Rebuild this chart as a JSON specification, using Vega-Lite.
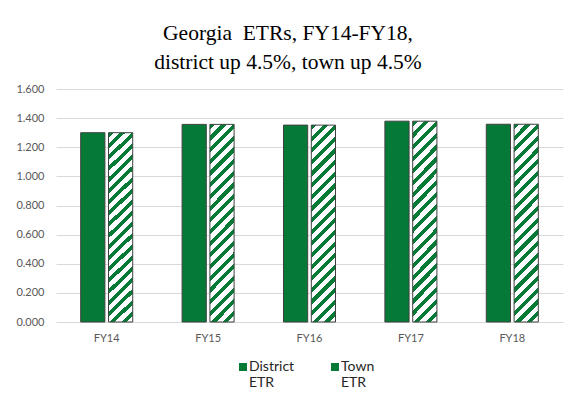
{
  "$schema": "https://vega.github.io/schema/vega-lite/v6.json",
  "width": 507,
  "height": 233,
  "autosize": {"type": "none"},
  "padding": {"left": 56, "top": 89, "right": 8, "bottom": 78},
  "background": "white",
  "title": {
    "text": ["Georgia\u00a0 ETRs, FY14-FY18,", "district up 4.5%, town up 4.5%"],
    "font": "Liberation Serif",
    "fontSize": 21.5,
    "fontWeight": "normal",
    "color": "#000000",
    "anchor": "middle",
    "frame": "group",
    "dx": -21.5,
    "dy": 27,
    "baseline": "alphabetic",
    "lineHeight": 29,
    "offset": 20
  },
  "data": {
    "values": [
      {"year": "FY14", "series": "District ETR", "value": 1.300},
      {"year": "FY14", "series": "Town ETR", "value": 1.300},
      {"year": "FY15", "series": "District ETR", "value": 1.357},
      {"year": "FY15", "series": "Town ETR", "value": 1.357},
      {"year": "FY16", "series": "District ETR", "value": 1.352},
      {"year": "FY16", "series": "Town ETR", "value": 1.352},
      {"year": "FY17", "series": "District ETR", "value": 1.379},
      {"year": "FY17", "series": "Town ETR", "value": 1.379},
      {"year": "FY18", "series": "District ETR", "value": 1.358},
      {"year": "FY18", "series": "Town ETR", "value": 1.358}
    ]
  },
  "mark": {"type": "bar", "stroke": "#404040", "strokeWidth": 1, "fillOpacity": 1},
  "encoding": {
    "x": {
      "field": "year",
      "type": "nominal",
      "scale": {"paddingInner": 0.487, "paddingOuter": 0.2435},
      "axis": {
        "title": null,
        "labelAngle": 0,
        "domain": false,
        "ticks": false,
        "labelPadding": 10,
        "labelFont": "Lato",
        "labelFontSize": 11,
        "labelColor": "#595959"
      }
    },
    "xOffset": {
      "field": "series",
      "scale": {"paddingInner": 0.13, "paddingOuter": 0}
    },
    "y": {
      "field": "value",
      "type": "quantitative",
      "scale": {"domain": [0, 1.6], "nice": false},
      "axis": {
        "title": null,
        "values": [0, 0.2, 0.4, 0.6, 0.8, 1.0, 1.2, 1.4, 1.6],
        "format": ".3f",
        "domain": false,
        "ticks": false,
        "labelPadding": 12,
        "labelFont": "Lato",
        "labelFontSize": 11,
        "labelColor": "#595959",
        "gridColor": "#d9d9d9",
        "gridWidth": 1
      }
    },
    "opacity": {
      "field": "series",
      "type": "nominal",
      "scale": {"domain": ["District ETR", "Town ETR"], "range": [1, 1]},
      "legend": {
        "title": null,
        "orient": "none",
        "legendX": 180,
        "legendY": 271,
        "direction": "horizontal",
        "columns": 2,
        "columnPadding": 33,
        "symbolType": "square",
        "symbolSize": 64,
        "symbolStrokeColor": "#404040",
        "symbolStrokeWidth": 1,
        "symbolOpacity": 1,
        "labelFont": "Lato",
        "labelFontSize": 14,
        "labelColor": "#262626",
        "labelOffset": -1,
        "labelLineHeight": 16,
        "labelExpr": "split(datum.label, ' ')"
      }
    },
    "fill": {
      "condition": [
        {
          "test": "datum.value === 'Town ETR' || datum.label === 'Town ETR'",
          "value": {
            "gradient": "linear",
            "x1": 0, "y1": 0, "x2": 1, "y2": 1,
            "stops": [
              {"offset": 0, "color": "#057a36"}, {"offset": 0.45, "color": "#057a36"},
              {"offset": 0.45, "color": "#ffffff"}, {"offset": 0.75, "color": "#ffffff"},
              {"offset": 0.75, "color": "#057a36"}, {"offset": 1, "color": "#057a36"}
            ]
          }
        },
        {
          "test": "datum.series === 'Town ETR'",
          "value": {
            "gradient": "linear",
            "x1": 0, "y1": 0, "x2": 0.136, "y2": 1.106,
            "stops": [
              {"offset": 0, "color": "#057a36"}, {"offset": 0.0237, "color": "#057a36"}, {"offset": 0.0237, "color": "#ffffff"}, {"offset": 0.0526, "color": "#ffffff"},
              {"offset": 0.0526, "color": "#057a36"}, {"offset": 0.0763, "color": "#057a36"}, {"offset": 0.0763, "color": "#ffffff"}, {"offset": 0.1053, "color": "#ffffff"},
              {"offset": 0.1053, "color": "#057a36"}, {"offset": 0.1289, "color": "#057a36"}, {"offset": 0.1289, "color": "#ffffff"}, {"offset": 0.1579, "color": "#ffffff"},
              {"offset": 0.1579, "color": "#057a36"}, {"offset": 0.1816, "color": "#057a36"}, {"offset": 0.1816, "color": "#ffffff"}, {"offset": 0.2105, "color": "#ffffff"},
              {"offset": 0.2105, "color": "#057a36"}, {"offset": 0.2342, "color": "#057a36"}, {"offset": 0.2342, "color": "#ffffff"}, {"offset": 0.2632, "color": "#ffffff"},
              {"offset": 0.2632, "color": "#057a36"}, {"offset": 0.2868, "color": "#057a36"}, {"offset": 0.2868, "color": "#ffffff"}, {"offset": 0.3158, "color": "#ffffff"},
              {"offset": 0.3158, "color": "#057a36"}, {"offset": 0.3395, "color": "#057a36"}, {"offset": 0.3395, "color": "#ffffff"}, {"offset": 0.3684, "color": "#ffffff"},
              {"offset": 0.3684, "color": "#057a36"}, {"offset": 0.3921, "color": "#057a36"}, {"offset": 0.3921, "color": "#ffffff"}, {"offset": 0.4211, "color": "#ffffff"},
              {"offset": 0.4211, "color": "#057a36"}, {"offset": 0.4447, "color": "#057a36"}, {"offset": 0.4447, "color": "#ffffff"}, {"offset": 0.4737, "color": "#ffffff"},
              {"offset": 0.4737, "color": "#057a36"}, {"offset": 0.4974, "color": "#057a36"}, {"offset": 0.4974, "color": "#ffffff"}, {"offset": 0.5263, "color": "#ffffff"},
              {"offset": 0.5263, "color": "#057a36"}, {"offset": 0.55, "color": "#057a36"}, {"offset": 0.55, "color": "#ffffff"}, {"offset": 0.5789, "color": "#ffffff"},
              {"offset": 0.5789, "color": "#057a36"}, {"offset": 0.6026, "color": "#057a36"}, {"offset": 0.6026, "color": "#ffffff"}, {"offset": 0.6316, "color": "#ffffff"},
              {"offset": 0.6316, "color": "#057a36"}, {"offset": 0.6553, "color": "#057a36"}, {"offset": 0.6553, "color": "#ffffff"}, {"offset": 0.6842, "color": "#ffffff"},
              {"offset": 0.6842, "color": "#057a36"}, {"offset": 0.7079, "color": "#057a36"}, {"offset": 0.7079, "color": "#ffffff"}, {"offset": 0.7368, "color": "#ffffff"},
              {"offset": 0.7368, "color": "#057a36"}, {"offset": 0.7605, "color": "#057a36"}, {"offset": 0.7605, "color": "#ffffff"}, {"offset": 0.7895, "color": "#ffffff"},
              {"offset": 0.7895, "color": "#057a36"}, {"offset": 0.8132, "color": "#057a36"}, {"offset": 0.8132, "color": "#ffffff"}, {"offset": 0.8421, "color": "#ffffff"},
              {"offset": 0.8421, "color": "#057a36"}, {"offset": 0.8658, "color": "#057a36"}, {"offset": 0.8658, "color": "#ffffff"}, {"offset": 0.8947, "color": "#ffffff"},
              {"offset": 0.8947, "color": "#057a36"}, {"offset": 0.9184, "color": "#057a36"}, {"offset": 0.9184, "color": "#ffffff"}, {"offset": 0.9474, "color": "#ffffff"},
              {"offset": 0.9474, "color": "#057a36"}, {"offset": 0.9711, "color": "#057a36"}, {"offset": 0.9711, "color": "#ffffff"}, {"offset": 1, "color": "#ffffff"}
            ]
          }
        }
      ],
      "value": "#057a36"
    }
  },
  "config": {
    "view": {"stroke": null}
  }
}
